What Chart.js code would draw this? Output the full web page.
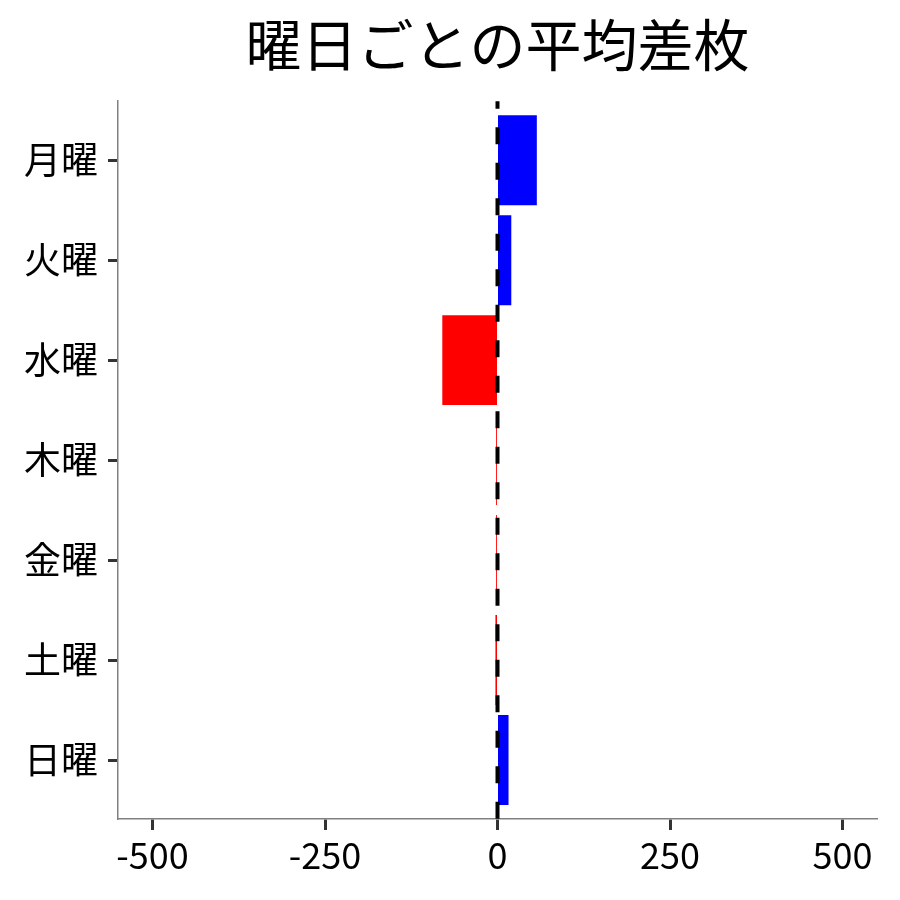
<!DOCTYPE html>
<html>
<head>
<meta charset="utf-8">
<script src="https://cdn.jsdelivr.net/npm/chart.js@4"></script>
<style>
  html, body { margin: 0; padding: 0; background: #fff; }
  #wrap { width: 900px; height: 900px; }
</style>
</head>
<body>
<div id="wrap"><canvas id="diffChart" width="900" height="900"></canvas></div>
<script>
const days = ['月曜', '火曜', '水曜', '木曜', '金曜', '土曜', '日曜'];
const diffs = [57, 20, -80, -2, -2, -3, 16];
const xTicks = [-500, -250, 0, 250, 500];

const FONT = '"Noto Sans CJK JP", "Noto Sans", sans-serif';

// dashed line at zero, drawn over the bars
const zeroLine = {
  id: 'zeroLine',
  afterDatasetsDraw: (chart) => {
    const {ctx, chartArea, scales} = chart;
    const x = scales.x.getPixelForValue(0);
    ctx.save();
    ctx.strokeStyle = '#000';
    ctx.lineWidth = 4;
    ctx.setLineDash([17, 18.5]);
    ctx.lineDashOffset = 9.5;
    ctx.beginPath();
    ctx.moveTo(x, chartArea.top);
    ctx.lineTo(x, chartArea.bottom);
    ctx.stroke();
    ctx.restore();
  }
};

const ctx = document.getElementById('diffChart').getContext('2d');
const diffChart = new Chart(ctx, {
  type: 'bar',
  data: {
    datasets: [{
      data: diffs.map((v, i) => ({x: v, y: i})),
      backgroundColor: diffs.map(v => v >= 0 ? '#0000ff' : '#ff0000'),
      borderWidth: 0,
      categoryPercentage: 1.0,
      barPercentage: 0.9
    }]
  },
  options: {
    indexAxis: 'y',
    responsive: false,
    animation: false,
    layout: { padding: { left: 0, right: 23, top: 0, bottom: 0 } },
    plugins: {
      legend: { display: false },
      tooltip: { enabled: false },
      title: {
        display: true,
        text: '曜日ごとの平均差枚',
        fullSize: false,
        color: '#000',
        font: { family: FONT, size: 56, weight: 'normal', lineHeight: 1.2 },
        padding: { top: 11, bottom: 23 }
      }
    },
    scales: {
      x: {
        type: 'linear',
        min: -550,
        max: 550,
        afterBuildTicks: s => { s.ticks = xTicks.map(v => ({value: v})); },
        afterFit: s => { s.height = 81; },
        grid: {
          display: true,
          drawOnChartArea: false,
          drawTicks: true,
          tickLength: 11,
          tickWidth: 3,
          tickColor: '#333'
        },
        border: { display: true, color: '#808080', width: 1.5 },
        ticks: {
          color: '#000',
          padding: 4,
          maxRotation: 0,
          font: { family: FONT, size: 36 }
        }
      },
      y: {
        type: 'linear',
        min: -0.59,
        max: 6.59,
        reverse: true,
        offset: false,
        afterBuildTicks: s => { s.ticks = days.map((d, i) => ({value: i})); },
        afterFit: s => { s.width = 118; },
        grid: {
          display: true,
          offset: false,
          drawOnChartArea: false,
          drawTicks: true,
          tickLength: 10,
          tickWidth: 3,
          tickColor: '#333'
        },
        border: { display: true, color: '#808080', width: 1.5 },
        ticks: {
          color: '#000',
          padding: 10,
          autoSkip: false,
          font: { family: FONT, size: 37 },
          callback: v => days[v]
        }
      }
    }
  },
  plugins: [zeroLine]
});
</script>
</body>
</html>
